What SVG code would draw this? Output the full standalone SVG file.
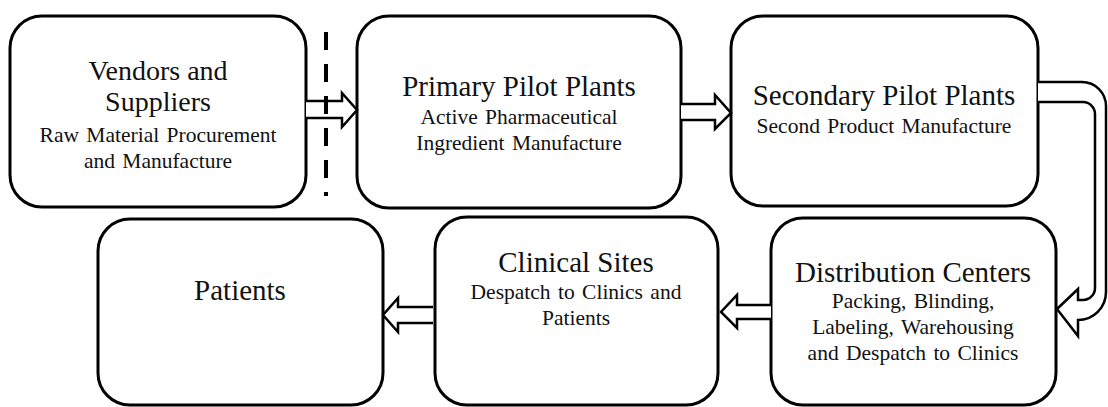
<svg xmlns="http://www.w3.org/2000/svg" width="1108" height="407" viewBox="0 0 1108 407">
<style>
.box{fill:#fff;stroke:#000;stroke-width:3}
.arr{fill:#fff;stroke:#000;stroke-width:2.5;stroke-linejoin:miter}
.t{font-family:"Liberation Serif","Times New Roman",serif;font-size:29px;fill:#111;text-anchor:middle}
.s{font-family:"Liberation Serif","Times New Roman",serif;font-size:21.5px;fill:#111;text-anchor:middle;word-spacing:2px}
.dash{stroke:#000;stroke-width:4;stroke-dasharray:18 14;fill:none}
</style>
<rect width="1108" height="407" fill="#fff"/>
<g id="vendors">
<rect class="box" x="10" y="16" width="296" height="191" rx="32"/>
<text class="t" x="158" y="80" style="font-size:28px">Vendors and</text>
<text class="t" x="158" y="111" style="font-size:28px">Suppliers</text>
<text class="s" x="158" y="142">Raw Material Procurement</text>
<text class="s" x="158" y="168">and Manufacture</text>
</g>
<g id="primary">
<rect class="box" x="357" y="16" width="324" height="192" rx="32"/>
<text class="t" x="519" y="96">Primary Pilot Plants</text>
<text class="s" x="519" y="124">Active Pharmaceutical</text>
<text class="s" x="519" y="150">Ingredient Manufacture</text>
</g>
<g id="secondary">
<rect class="box" x="731" y="16" width="307" height="190" rx="32"/>
<text class="t" x="884" y="105">Secondary Pilot Plants</text>
<text class="s" x="884" y="133">Second Product Manufacture</text>
</g>
<g id="distribution">
<rect class="box" x="771" y="218" width="285" height="187" rx="32"/>
<text class="t" x="913" y="282">Distribution Centers</text>
<text class="s" x="913" y="308">Packing, Blinding,</text>
<text class="s" x="913" y="334">Labeling, Warehousing</text>
<text class="s" x="913" y="360">and Despatch to Clinics</text>
</g>
<g id="clinical">
<rect class="box" x="435" y="217" width="283" height="188" rx="32"/>
<text class="t" x="576" y="272">Clinical Sites</text>
<text class="s" x="576" y="299">Despatch to Clinics and</text>
<text class="s" x="576" y="325">Patients</text>
</g>
<g id="patients">
<rect class="box" x="98" y="219" width="285" height="186" rx="32"/>
<text class="t" x="240" y="300">Patients</text>
</g>
<g id="connectors">
<path class="arr" d="M306,101 L342,101 L342,93 L357,110 L342,127 L342,118 L306,118"/>
<path class="arr" d="M681,104 L715,104 L715,95 L731,113 L715,129 L715,120 L681,120"/>
<path class="arr" d="M433,307 L398,307 L398,298 L383,315 L398,332 L398,323 L433,323"/>
<path class="arr" d="M771,305 L737,305 L737,295 L721,312 L737,328 L737,319 L771,319"/>
<path class="arr" d="M1038,82 L1082,82 A24,24 0 0 1 1106,106 L1106,292 A28,28 0 0 1 1078,320 L1078,336 L1057,309 L1078,289 L1078,300 L1083,300 A12,12 0 0 0 1095,288 L1095,114 A12,12 0 0 0 1083,102 L1038,102"/>
<line class="dash" x1="326" y1="32" x2="326" y2="196"/>
</g>
</svg>
